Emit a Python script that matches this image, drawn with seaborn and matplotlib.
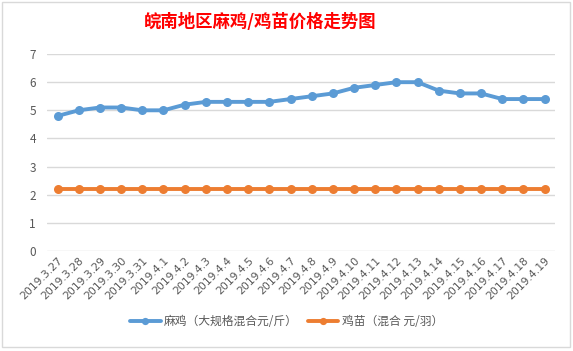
import numpy as np
import pandas as pd
import matplotlib
matplotlib.use("Agg")
import matplotlib.pyplot as plt
import seaborn as sns
from matplotlib.patches import Rectangle

# --- datos ---
dates = ["2019.3.27", "2019.3.28", "2019.3.29", "2019.3.30", "2019.3.31",
         "2019.4.1", "2019.4.2", "2019.4.3", "2019.4.4", "2019.4.5", "2019.4.6",
         "2019.4.7", "2019.4.8", "2019.4.9", "2019.4.10", "2019.4.11", "2019.4.12",
         "2019.4.13", "2019.4.14", "2019.4.15", "2019.4.16", "2019.4.17",
         "2019.4.18", "2019.4.19"]
maji = [4.8, 5.0, 5.1, 5.1, 5.0, 5.0, 5.2, 5.3, 5.3, 5.3, 5.3, 5.4,
        5.5, 5.6, 5.8, 5.9, 6.0, 6.0, 5.7, 5.6, 5.6, 5.4, 5.4, 5.4]
jimiao = [2.2] * 24
label_maji = "麻鸡（大规格混合元/斤）"
label_jimiao = "鸡苗（混合 元/羽）"
title = "皖南地区麻鸡/鸡苗价格走势图"

df = pd.DataFrame({"idx": np.arange(len(dates)), "maji": maji, "jimiao": jimiao})

sns.set_style("white")
plt.rcParams["font.family"] = ["Noto Sans CJK SC", "DejaVu Sans"]

fig = plt.figure(figsize=(5.73, 3.51), dpi=100)
ax = fig.add_axes([0.082, 0.285, 0.887, 0.561])

sns.lineplot(data=df, x="idx", y="maji", ax=ax, color="#5B9BD5", lw=2.8,
             marker="o", markersize=6.5, markeredgewidth=0, label=label_maji)
sns.lineplot(data=df, x="idx", y="jimiao", ax=ax, color="#ED7D31", lw=2.8,
             marker="o", markersize=6.5, markeredgewidth=0, label=label_jimiao)

ax.set_xlim(-0.5, len(dates) - 0.5)
ax.set_ylim(0, 7)
ax.set_yticks(range(0, 8))
ax.yaxis.grid(True, color="#D9D9D9", lw=1)
ax.set_axisbelow(True)
for s in ax.spines.values():
    s.set_visible(False)
ax.set_xlabel("")
ax.set_ylabel("")
ax.set_xticks(df["idx"])
ax.set_xticklabels(dates, rotation=45, ha="right", rotation_mode="anchor",
                   fontsize=7.8, color="#595959", family="DejaVu Sans")
ax.tick_params(axis="y", labelsize=8.5, labelcolor="#595959", length=0, pad=8)
ax.tick_params(axis="x", length=0, pad=3)

ax.legend(loc="lower center", bbox_to_anchor=(0.5, 0.035), bbox_transform=fig.transFigure,
          ncol=2, frameon=False, fontsize=8.5, handlelength=2.6, handletextpad=0.3,
          columnspacing=0.8, markerscale=0.8, labelcolor="#595959")

fig.text(0.454, 0.937, title, ha="center", va="center", fontsize=12.5,
         fontweight="bold", color="#FF0000")

# borde del gráfico
fig.patches.append(Rectangle((0.004, 0.01), 0.99, 0.983, transform=fig.transFigure,
                             fill=False, edgecolor="#D9D9D9", lw=1))

fig.savefig("out.png", dpi=100)
